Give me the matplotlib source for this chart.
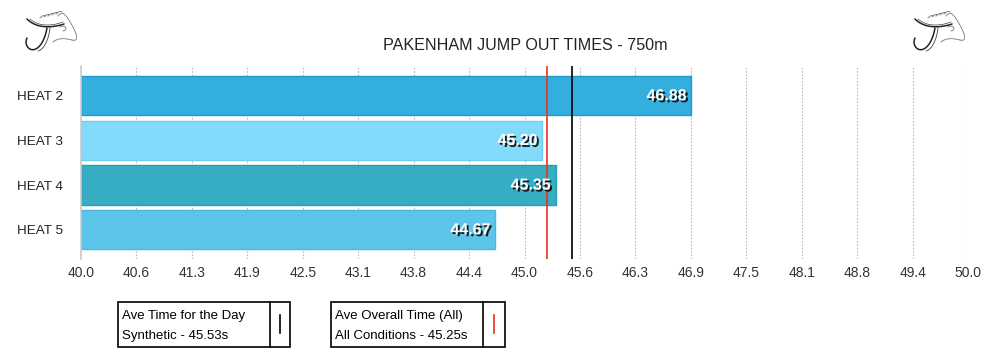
import matplotlib
matplotlib.use('Agg')
import matplotlib.pyplot as plt
import matplotlib.patheffects as pe
from matplotlib.patches import Rectangle
from matplotlib.lines import Line2D
from math import comb
import numpy as np

plt.rcParams['font.family'] = ['Liberation Sans', 'DejaVu Sans']

# data
heats = ["HEAT 2", "HEAT 3", "HEAT 4", "HEAT 5"]
times = [46.88, 45.20, 45.35, 44.67]
bar_colors = ["#33aedd", "#82dbfa", "#37adc4", "#5dc5ea"]
edge_colors = ["#1f9ccb", "#6fcdee", "#2a9db4", "#4cb6dd"]
tick_labels = ["40.0", "40.6", "41.3", "41.9", "42.5", "43.1", "43.8", "44.4",
               "45.0", "45.6", "46.3", "46.9", "47.5", "48.1", "48.8", "49.4", "50.0"]
ave_day = 45.53
ave_all = 45.25

W, H = 1000.0, 358.0
fig = plt.figure(figsize=(10, 3.58), dpi=100)
ax = fig.add_axes([0.081, 0.277, 0.887, 0.539])

y_pos = np.arange(len(heats))
ax.barh(y_pos, [t - 40 for t in times], left=40, height=0.88,
        color=bar_colors, edgecolor=edge_colors, linewidth=1.0, zorder=2)

for y, t in zip(y_pos, times):
    ax.text(t - 0.05, y, "{:.2f}".format(t), ha="right", va="center",
            fontsize=11.5, fontweight="bold", color="white", zorder=5,
            path_effects=[pe.withSimplePatchShadow(offset=(1.4, -1.4),
                                                   shadow_rgbFace="#111111", alpha=0.95)])

ax.axvline(ave_all, color="#e8321e", linewidth=1.2, zorder=4)
ax.axvline(ave_day, color="black", linewidth=1.2, zorder=4)

ticks = np.linspace(40, 50, len(tick_labels))
ax.set_xticks(ticks)
ax.set_xticklabels(tick_labels, fontsize=10, color="#333333")
ax.set_yticks(y_pos)
ax.set_yticklabels(heats, fontsize=9.7, color="#222222")
ax.tick_params(axis="both", length=0)
ax.tick_params(axis="x", pad=5)
ax.tick_params(axis="y", pad=13)
ax.set_xlim(40, 50)
ax.set_ylim(3.65, -0.67)
ax.grid(axis="x", color="#bbbbbb", linestyle=(0, (1.5, 1.5)), linewidth=0.8, zorder=0)
for s in ["top", "right", "bottom"]:
    ax.spines[s].set_visible(False)
ax.spines["left"].set_color("#cccccc")
ax.spines["left"].set_linewidth(1.2)

fig.text(0.525, 1 - 45 / H, "PAKENHAM JUMP OUT TIMES - 750m", ha="center", va="center",
         fontsize=11.6, color="#222222")


# legend boxes
def legend_box(x0, x1, xdiv, line1, line2, col):
    y0, y1 = 302, 347
    fig.patches.append(Rectangle((x0 / W, 1 - y1 / H), (x1 - x0) / W, (y1 - y0) / H,
                                 transform=fig.transFigure, fill=False,
                                 edgecolor="black", linewidth=1.2))
    fig.lines.append(Line2D([xdiv / W, xdiv / W], [1 - y1 / H, 1 - y0 / H],
                            transform=fig.transFigure, color="black", linewidth=1.2))
    xm = (xdiv + x1) / 2
    fig.lines.append(Line2D([xm / W, xm / W], [1 - 333 / H, 1 - 315 / H],
                            transform=fig.transFigure, color=col, linewidth=1.2))
    fig.text((x0 + 4) / W, 1 - 316 / H, line1, ha="left", va="center", fontsize=9.5)
    fig.text((x0 + 4) / W, 1 - 336 / H, line2, ha="left", va="center", fontsize=9.5)


legend_box(118, 290, 270, "Ave Time for the Day", "Synthetic - {:.2f}s".format(ave_day), "black")
legend_box(331, 505, 483, "Ave Overall Time (All)", "All Conditions - {:.2f}s".format(ave_all), "#e8321e")


# small horse-head logo sketch in the corners
def bez(pts, n=30):
    pts = np.array(pts, dtype=float)
    t = np.linspace(0, 1, n)[:, None]
    k = len(pts) - 1
    out = sum(comb(k, i) * (1 - t) ** (k - i) * t ** i * pts[i] for i in range(k + 1))
    return out[:, 0], out[:, 1]


def draw_logo(x_off):
    lax = fig.add_axes([x_off / W, 1 - 70 / H, 100 / W, 70 / H])
    lax.set_xlim(0, 100)
    lax.set_ylim(70, 0)
    lax.axis("off")
    dark = dict(color="#222222", linewidth=1.1, solid_capstyle="round")
    grey = dict(color="#777777", linewidth=0.6)
    # saddle arc
    lax.plot(*bez([(27, 19), (38, 30), (55, 27), (64, 24)]), **dark)
    lax.plot(*bez([(30, 19), (40, 28), (55, 25), (63, 22)]), color="#444444", linewidth=0.5)
    # J stem
    lax.plot(*bez([(47, 28), (44, 45), (36, 56), (27, 52), (24, 44), (27, 38)]), **dark)
    lax.plot(*bez([(50, 28), (48, 44), (42, 50), (38, 51)]), color="#444444", linewidth=0.6)
    # mane
    for k in range(5):
        lax.plot(*bez([(40 + 4 * k, 18 - k), (44 + 4 * k, 14 - k), (46 + 4 * k, 16 - k)]), **grey)
    # head outline
    lax.plot(*bez([(58, 16), (64, 9), (66, 14), (72, 26), (80, 36), (79, 42), (72, 40)]), **grey)
    lax.plot(*bez([(72, 40), (64, 38), (58, 38), (53, 42)]), **grey)
    lax.plot(*bez([(60, 27), (66, 24), (68, 30), (63, 31)]), **grey)


draw_logo(0)
draw_logo(888)

fig.savefig("out.png", dpi=100, facecolor="white")
